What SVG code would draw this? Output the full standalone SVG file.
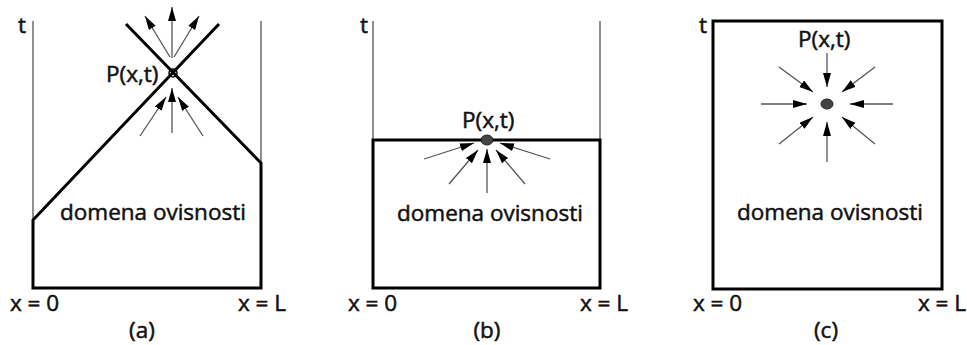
<svg xmlns="http://www.w3.org/2000/svg" width="967" height="345" viewBox="0 0 967 345">
<style>
text{font-family:"Open Sans","Liberation Sans",sans-serif;font-size:22.5px;fill:#111;stroke:#111;stroke-width:0.5}
.thick{fill:none;stroke:#000;stroke-width:3;stroke-linejoin:miter}
.thin{fill:none;stroke:#555;stroke-width:1.3}
.arr{fill:none;stroke:#555;stroke-width:1.3;marker-end:url(#ah)}
.dot{fill:#444;stroke:#222;stroke-width:1}
.mid{text-anchor:middle}
</style>
<defs>
<marker id="ah" markerUnits="userSpaceOnUse" markerWidth="16" markerHeight="10" refX="14" refY="4" orient="auto">
<path d="M0,0 L14,4 L0,8 Z" fill="#000"/>
</marker>
</defs>
<rect width="967" height="345" fill="#fff"/>

<g id="panel-a">
<line class="thin" x1="33" y1="21" x2="33" y2="220"/>
<line class="thin" x1="261" y1="21" x2="261" y2="163"/>
<path class="thick" d="M219,24 L33,220 L33,288 L261,288 L261,163 L126,24"/>
<circle cx="173" cy="73" r="4" fill="none" stroke="#000" stroke-width="1.5"/>
<text x="18" y="33">t</text>
<text x="106" y="82">P(x,t)</text>
<text x="60" y="220">domena ovisnosti</text>
<text x="10" y="311">x = 0</text>
<text x="238" y="311">x = L</text>
<text class="mid" x="142" y="338">(a)</text>
</g>

<g id="panel-b">
<line class="thin" x1="373" y1="21" x2="373" y2="140"/>
<line class="thin" x1="600" y1="21" x2="600" y2="140"/>
<rect class="thick" x="373" y="140" width="227" height="148"/>
<ellipse class="dot" cx="487" cy="140" rx="6" ry="5"/>
<text x="360" y="33">t</text>
<text x="462" y="128">P(x,t)</text>
<text x="397" y="221">domena ovisnosti</text>
<text x="348" y="311">x = 0</text>
<text x="580" y="311">x = L</text>
<text class="mid" x="487" y="338">(b)</text>
</g>

<g id="panel-c">
<rect class="thick" x="713" y="21" width="229" height="268"/>
<ellipse class="dot" cx="827" cy="104" rx="6" ry="5"/>
<text x="699" y="33">t</text>
<text x="798" y="47">P(x,t)</text>
<text x="737" y="220">domena ovisnosti</text>
<text x="693" y="311">x = 0</text>
<text x="918" y="311">x = L</text>
<text class="mid" x="826" y="338">(c)</text>
</g>

<g id="connectors">
<line class="arr" x1="172" y1="58" x2="172" y2="7"/>
<line class="arr" x1="170" y1="57" x2="145" y2="16"/>
<line class="arr" x1="174" y1="57" x2="199" y2="16"/>
<line class="arr" x1="172" y1="133" x2="172" y2="88"/>
<line class="arr" x1="140" y1="136" x2="166" y2="97"/>
<line class="arr" x1="203" y1="136" x2="178" y2="97"/>

<line class="arr" x1="424" y1="159" x2="474" y2="143"/>
<line class="arr" x1="449" y1="184" x2="478" y2="150"/>
<line class="arr" x1="487" y1="193" x2="487" y2="149"/>
<line class="arr" x1="525" y1="184" x2="496" y2="150"/>
<line class="arr" x1="550" y1="159" x2="500" y2="143"/>

<line class="arr" x1="827" y1="53" x2="827" y2="87"/>
<line class="arr" x1="827" y1="162" x2="827" y2="122"/>
<line class="arr" x1="761" y1="104" x2="807" y2="104"/>
<line class="arr" x1="893" y1="104" x2="850" y2="104"/>
<line class="arr" x1="779" y1="67" x2="813" y2="92"/>
<line class="arr" x1="875" y1="67" x2="842" y2="92"/>
<line class="arr" x1="779" y1="144" x2="813" y2="117"/>
<line class="arr" x1="875" y1="144" x2="842" y2="117"/>
</g>
</svg>
